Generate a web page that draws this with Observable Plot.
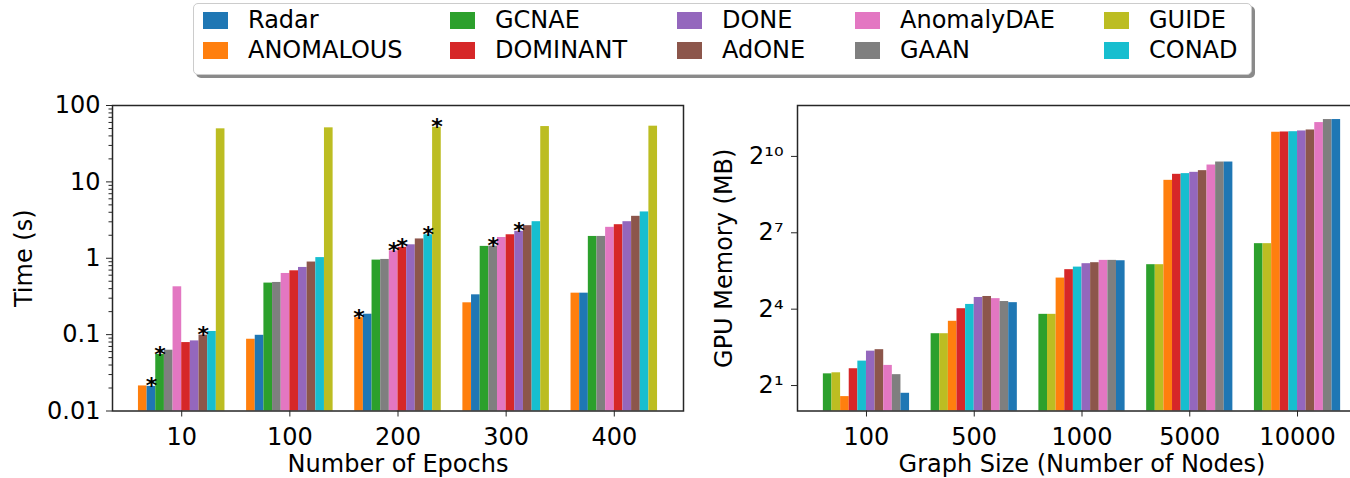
<!DOCTYPE html>
<html><head><meta charset="utf-8">
<script src="https://cdn.jsdelivr.net/npm/d3@7"></script>
<script src="https://cdn.jsdelivr.net/npm/@observablehq/plot@0.6"></script>
<style>
html,body{margin:0;padding:0;background:#fff;overflow:hidden;width:1350px;height:478px;}
#root{position:relative;width:1350px;height:478px;font-family:"DejaVu Sans",sans-serif;overflow:hidden;}
#legend{position:absolute;left:193px;top:3px;width:1057px;height:70px;border:1px solid #cccccc;border-radius:5px;background:#fff;box-shadow:3px 3px 0 #8a8a8a;z-index:2;}
.item{position:absolute;display:flex;align-items:center;font-size:24px;line-height:24px;color:#000;white-space:nowrap;}
.sw{width:25px;height:17px;margin-right:20px;}
#left{position:absolute;left:0;top:0;width:690px;height:478px;}
#right{position:absolute;left:690px;top:0;width:690px;height:478px;}
#left svg,#right svg{max-width:none !important;width:690px !important;height:478px !important;}
</style></head>
<body>
<div id="root">
  <div id="left"></div>
  <div id="right"></div>
  <div id="legend"></div>
</div>
<script>
// ---- legend / methods ----
const methods = ["Radar","ANOMALOUS","GCNAE","DOMINANT","DONE","AdONE","AnomalyDAE","GAAN","GUIDE","CONAD"];
const methodColors = ["#1f77b4","#ff7f0e","#2ca02c","#d62728","#9467bd","#8c564b","#e377c2","#7f7f7f","#bcbd22","#17becf"];

// ---- left panel: training time (s) vs number of epochs ----
const epochs = ["10","100","200","300","400"];
const timeOrder = ["ANOMALOUS","Radar","GCNAE","GAAN","AnomalyDAE","DOMINANT","DONE","AdONE","CONAD","GUIDE"];
const timeRadar      = [0.021, 0.098, 0.185, 0.332, 0.349];
const timeANOMALOUS  = [0.0213, 0.087, 0.167, 0.261, 0.349];
const timeGCNAE      = [0.055, 0.473, 0.946, 1.43, 1.93];
const timeGAAN       = [0.0625, 0.482, 0.965, 1.44, 1.93];
const timeAnomalyDAE = [0.423, 0.632, 1.25, 1.87, 2.54];
const timeDOMINANT   = [0.0787, 0.685, 1.39, 2.03, 2.75];
const timeDONE       = [0.0828, 0.758, 1.50, 2.25, 3.01];
const timeAdONE      = [0.0985, 0.892, 1.79, 2.67, 3.54];
const timeCONAD      = [0.110, 1.02, 2.03, 3.01, 4.04];
const timeGUIDE      = [49.5, 51.0, 51.9, 53.0, 53.6];
const timeStars = [["10","Radar"],["10","GCNAE"],["10","AdONE"],["200","ANOMALOUS"],["200","AnomalyDAE"],["200","DOMINANT"],["200","CONAD"],["200","GUIDE"],["300","GAAN"],["300","DONE"]];
const timeTicks = [0.01, 0.1, 1, 10, 100];
const timeTickLabels = ["0.01","0.1","1","10","100"];

// ---- right panel: GPU memory (MB) vs graph size ----
const sizes = ["100","500","1000","5000","10000"];
const memOrder = ["GCNAE","GUIDE","ANOMALOUS","DOMINANT","CONAD","DONE","AdONE","AnomalyDAE","GAAN","Radar"];
const memGCNAE      = [2.75, 8.2, 13.9, 53.7, 95.2];
const memGUIDE      = [2.83, 8.2, 13.9, 53.7, 95.2];
const memANOMALOUS  = [1.48, 11.5, 37.3, 534, 1977];
const memDOMINANT   = [3.16, 16.2, 46.9, 629, 1992];
const memCONAD      = [3.89, 18.2, 50.3, 641, 2007];
const memDONE       = [5.10, 22.0, 55.2, 664, 2048];
const memAdONE      = [5.31, 22.6, 56.7, 695, 2104];
const memAnomalyDAE = [3.46, 21.3, 60.4, 810, 2573];
const memGAAN       = [2.69, 19.7, 60.4, 879, 2795];
const memRadar      = [1.62, 19.1, 59.8, 879, 2795];
const memTicks = [2, 16, 128, 1024];
const memTickLabels = ["2\u00b9","2\u2074","2\u2077","2\u00b9\u2070"];

// ---- build tables ----
const timeSeries = {Radar: timeRadar, ANOMALOUS: timeANOMALOUS, GCNAE: timeGCNAE, GAAN: timeGAAN, AnomalyDAE: timeAnomalyDAE,
  DOMINANT: timeDOMINANT, DONE: timeDONE, AdONE: timeAdONE, CONAD: timeCONAD, GUIDE: timeGUIDE};
const memSeries = {GCNAE: memGCNAE, GUIDE: memGUIDE, ANOMALOUS: memANOMALOUS, DOMINANT: memDOMINANT, CONAD: memCONAD,
  DONE: memDONE, AdONE: memAdONE, AnomalyDAE: memAnomalyDAE, GAAN: memGAAN, Radar: memRadar};

const barW = 0.08;
function rows(groups, order, series) {
  const out = [];
  groups.forEach((g, gi) => order.forEach((m, k) => {
    out.push({group: gi, label: g, method: m, k, value: series[m][gi],
      x1: gi + (k - order.length / 2) * barW, x2: gi + (k - order.length / 2 + 1) * barW,
      xc: gi + (k - order.length / 2 + 0.5) * barW});
  }));
  return out;
}
const timeRows = rows(epochs, timeOrder, timeSeries);
const memRows = rows(sizes, memOrder, memSeries);
const starRows = timeStars.map(([e, m]) => timeRows.find(r => r.label === e && r.method === m));

const timeMin = 0.01, timeMax = 100;
const memMin = 1, memMax = 4096;
const minorTicks = [];
for (let p = -2; p < 2; p++) for (let j = 2; j <= 9; j++) minorTicks.push(j * Math.pow(10, p));

const colorScale = {domain: methods, range: methodColors};
const baseStyle = {fontFamily: "DejaVu Sans, sans-serif", fontSize: "24px", color: "#000", background: "transparent", overflow: "visible"};
const axisStroke = "#262626";

const left = Plot.plot({
  width: 690, height: 478,
  marginLeft: 112, marginRight: 7, marginTop: 105, marginBottom: 67.5,
  x: {domain: [-0.64, 4.64], axis: null},
  y: {type: "log", domain: [timeMin, timeMax], axis: null},
  color: colorScale,
  style: baseStyle,
  marks: [
    Plot.rect(timeRows, {x1: "x1", x2: "x2", y1: timeMin, y2: "value", fill: "method"}),
    Plot.text(starRows, {x: "xc", y: "value", text: () => "*", fontSize: 22, fontWeight: "bold", lineAnchor: "middle", fill: "#000"}),
    Plot.frame({stroke: axisStroke, strokeWidth: 1.5}),
    Plot.axisX({ticks: [0,1,2,3,4], tickFormat: i => epochs[i], tickSize: 6, tickPadding: 11, label: null, fontSize: 24, stroke: axisStroke}),
    Plot.axisY({ticks: timeTicks, tickFormat: d => timeTickLabels[timeTicks.indexOf(d)], tickSize: 6, tickPadding: 6, label: null, fontSize: 24, stroke: axisStroke}),
    Plot.axisY({ticks: minorTicks, tickFormat: () => "", tickSize: 3.5, label: null, stroke: axisStroke}),
    Plot.text(["Time (s)"], {text: d => d, frameAnchor: "left", textAnchor: "middle", lineAnchor: "middle", dx: -88, rotate: -90, fontSize: 24, fill: "#000"}),
    Plot.text(["Number of Epochs"], {text: d => d, frameAnchor: "bottom", textAnchor: "middle", dy: 61, fontSize: 24, fill: "#000"})
  ]
});
document.getElementById("left").appendChild(left);

const right = Plot.plot({
  width: 690, height: 478,
  marginLeft: 107, marginRight: 14, marginTop: 105, marginBottom: 67.5,
  x: {domain: [-0.64, 4.64], axis: null},
  y: {type: "log", base: 2, domain: [memMin, memMax], axis: null},
  color: colorScale,
  style: baseStyle,
  marks: [
    Plot.rect(memRows, {x1: "x1", x2: "x2", y1: memMin, y2: "value", fill: "method"}),
    Plot.frame({stroke: axisStroke, strokeWidth: 1.5}),
    Plot.axisX({ticks: [0,1,2,3,4], tickFormat: i => sizes[i], tickSize: 6, tickPadding: 11, label: null, fontSize: 24, stroke: axisStroke}),
    Plot.axisY({ticks: memTicks, tickFormat: d => memTickLabels[memTicks.indexOf(d)], tickSize: 6, tickPadding: 8, label: null, fontSize: 24, stroke: axisStroke}),
    Plot.text(["GPU Memory (MB)"], {text: d => d, frameAnchor: "left", textAnchor: "middle", lineAnchor: "middle", dx: -73, rotate: -90, fontSize: 24, fill: "#000"}),
    Plot.text(["Graph Size (Number of Nodes)"], {text: d => d, frameAnchor: "bottom", textAnchor: "middle", dy: 61, fontSize: 24, fill: "#000"})
  ]
});
document.getElementById("right").appendChild(right);

// ---- legend (2 rows, column-major like matplotlib ncol=5) ----
const legend = document.getElementById("legend");
const colX = [248, 495, 722, 900, 1149];
const rowY = [20, 50];
methods.forEach((m, i) => {
  const col = Math.floor(i / 2), row = i % 2;
  const it = document.createElement("div");
  it.className = "item";
  it.style.left = (colX[col] - 45 - 194) + "px";
  it.style.top = (rowY[row] - 12 - 4) + "px";
  const sw = document.createElement("div");
  sw.className = "sw";
  sw.style.background = methodColors[i];
  const tx = document.createElement("span");
  tx.textContent = m;
  it.appendChild(sw); it.appendChild(tx);
  legend.appendChild(it);
});
</script>
</body></html>
